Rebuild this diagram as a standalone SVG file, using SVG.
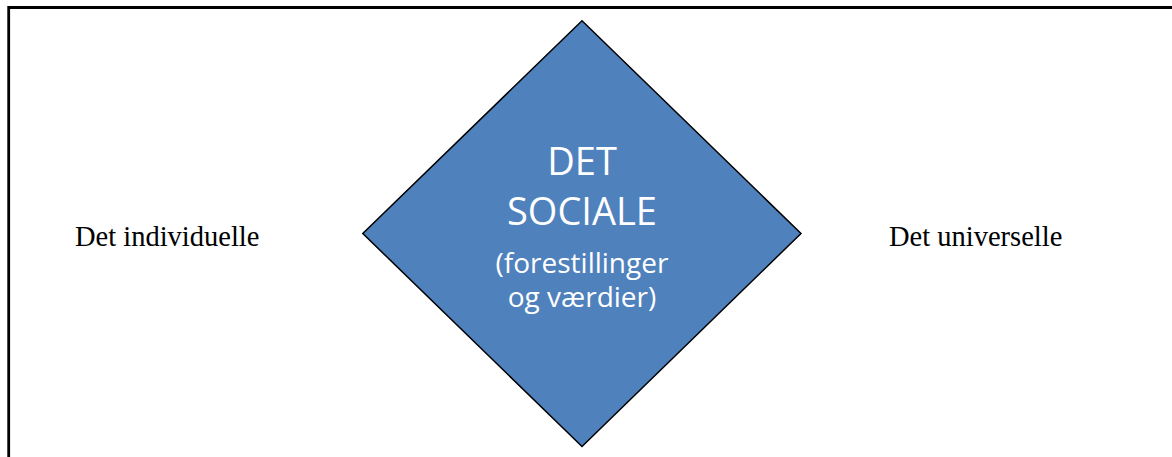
<svg xmlns="http://www.w3.org/2000/svg" width="1172" height="457" viewBox="0 0 1172 457">
  <style>
    .side { font-family: "Liberation Serif", "DejaVu Serif", serif; font-size: 28.5px; fill: #000; }
    .big { font-family: "Open Sans", "Liberation Sans", sans-serif; font-size: 38px; fill: #fff; text-anchor: middle; }
    .small { font-family: "Open Sans", "Liberation Sans", sans-serif; font-size: 28px; fill: #fff; text-anchor: middle; }
  </style>
  <rect width="1172" height="457" fill="#fff"/>
  <g id="frame">
    <path d="M8.7,457 V7.5 H1172" fill="none" stroke="#000" stroke-width="2.8"/>
  </g>
  <g id="connectors"></g>
  <g id="social">
    <polygon points="582,20.7 801,233.5 582,446.5 362.8,233.5" fill="#4F81BD" stroke="#000" stroke-width="1.5" stroke-linejoin="miter"/>
    <text class="big" x="582" y="175">DET</text>
    <text class="big" x="582" y="225">SOCIALE</text>
    <text class="small" x="582" y="273">(forestillinger</text>
    <text class="small" x="582" y="307">og værdier)</text>
  </g>
  <g id="individuelle">
    <text class="side" x="75" y="246">Det individuelle</text>
  </g>
  <g id="universelle">
    <text class="side" x="889" y="246">Det universelle</text>
  </g>
</svg>
